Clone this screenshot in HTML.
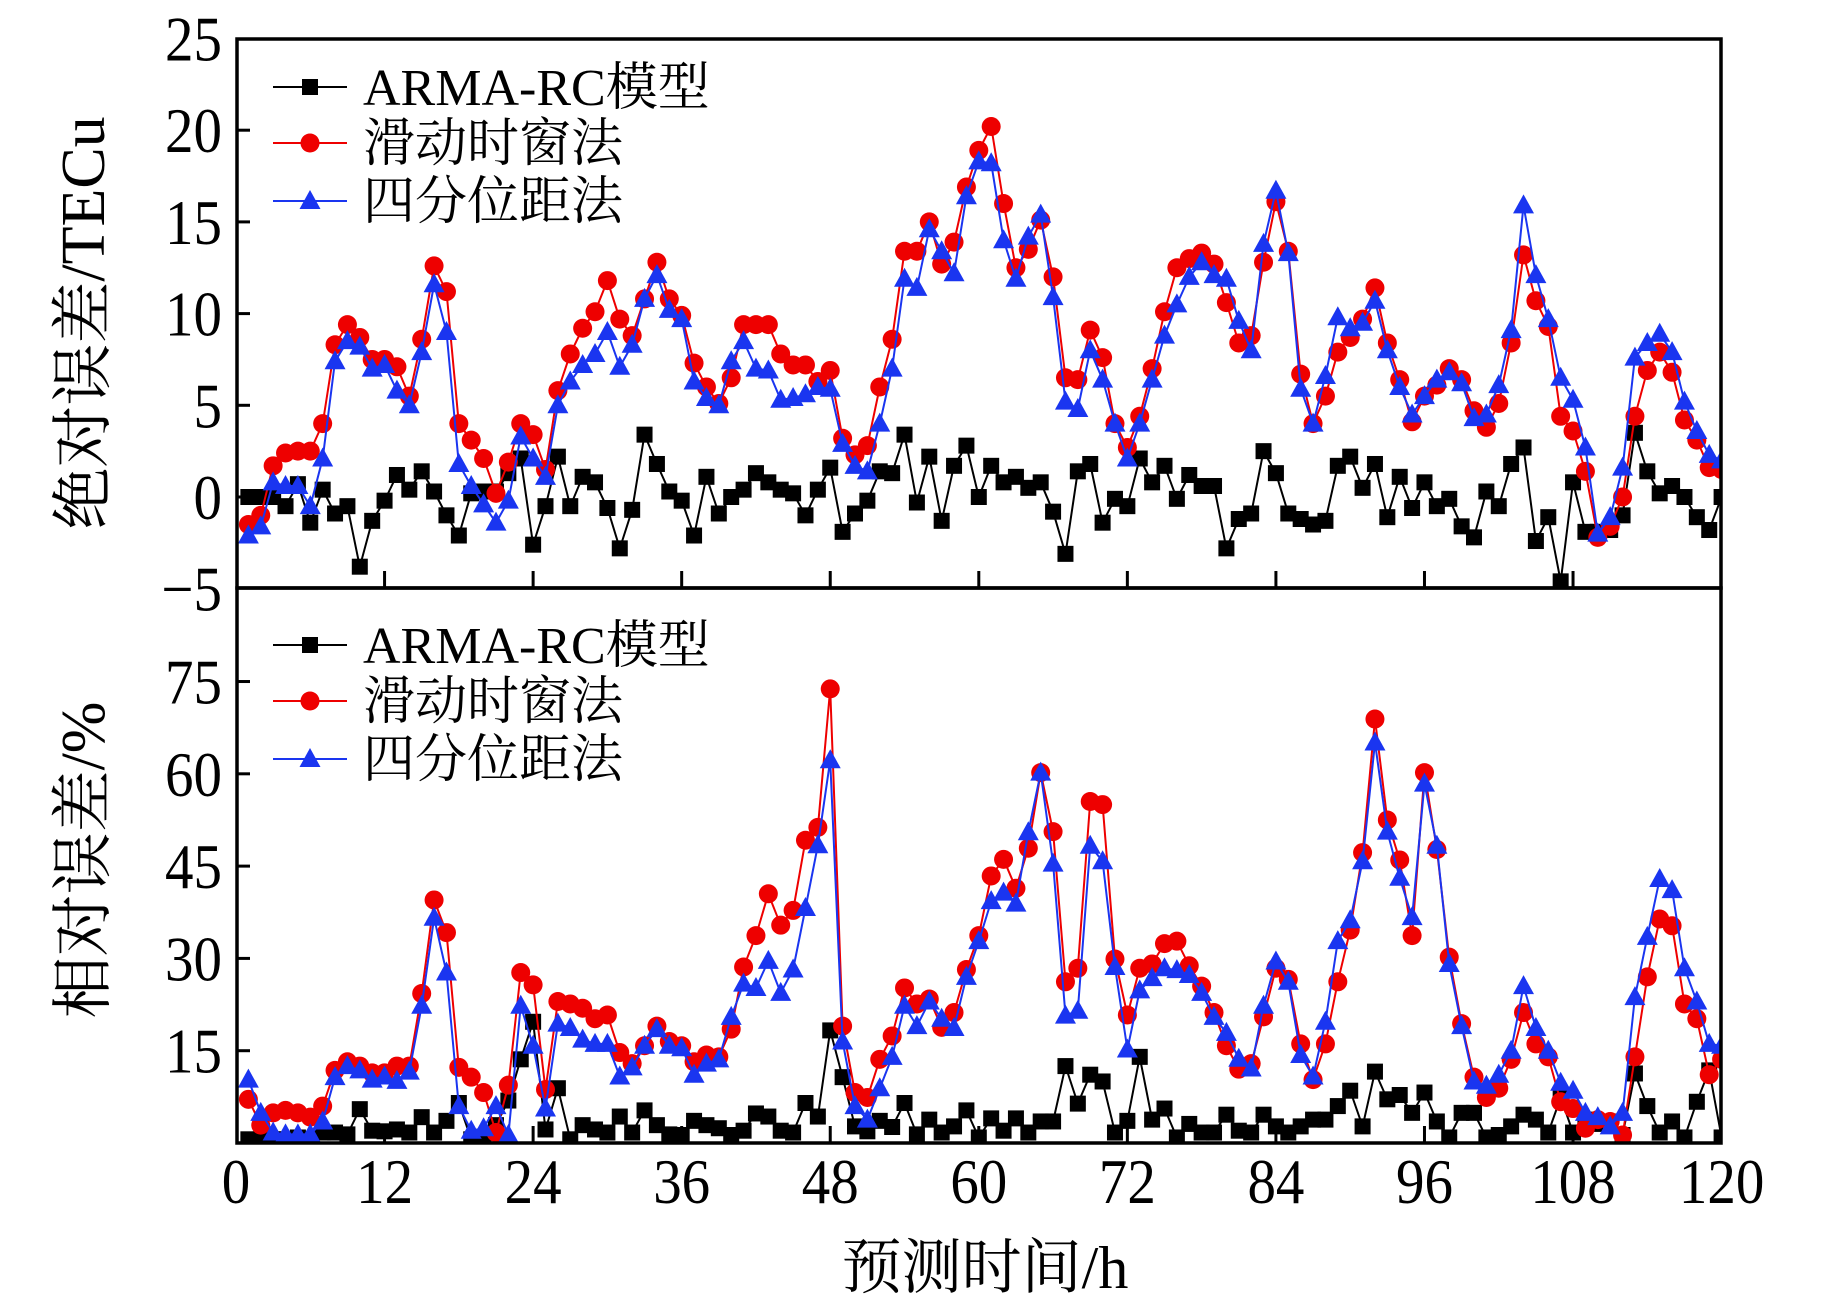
<!DOCTYPE html>
<html><head><meta charset="utf-8">
<style>
html,body{margin:0;padding:0;background:#fff;}
svg{display:block;}
text{font-family:"Liberation Serif","Noto Serif CJK SC",serif;fill:#000;}
</style></head>
<body>
<svg id="chart" xmlns="http://www.w3.org/2000/svg" width="1843" height="1299" viewBox="0 0 1843 1299">
  <g id="top-panel"></g>
  <g id="bottom-panel"></g>
  <text x="985" y="1288" font-size="60" text-anchor="middle">预测时间/h</text>
  <text transform="translate(104,323) rotate(-90)" font-size="62" text-anchor="middle">绝对误差/TECu</text>
  <text transform="translate(104,860) rotate(-90)" font-size="62" text-anchor="middle">相对误差/%</text>
</svg>
<script>
const hours = Array.from({length:120},(_,i)=>i+1);
const xTicks = [0,12,24,36,48,60,72,84,96,108,120];
const topYTicks = [-5,0,5,10,15,20,25];
const topYTickLabels = ["\u22125","0","5","10","15","20","25"];
const bottomYTicks = [15,30,45,60,75];
const seriesNames = ["ARMA-RC模型","滑动时窗法","四分位距法"];

const absArma = [0,0,0,-0.5,0.7,-1.4,0.4,-0.9,-0.5,-3.8,-1.3,-0.2,1.2,0.4,1.4,0.3,-1.0,-2.1,0.2,0.3,0.3,1.3,2.1,-2.6,-0.5,2.2,-0.5,1.1,0.8,-0.6,-2.8,-0.7,3.4,1.8,0.3,-0.2,-2.1,1.1,-0.9,0,0.4,1.3,0.8,0.4,0.2,-1.0,0.4,1.6,-1.9,-0.9,-0.2,1.4,1.3,3.4,-0.3,
2.2,-1.3,1.7,2.8,0.0,1.7,0.8,1.1,0.5,0.8,-0.8,-3.1,1.4,1.8,-1.4,-0.1,-0.5,2.1,0.8,1.7,-0.1,1.2,0.6,0.6,-2.8,-1.2,-0.9,2.5,1.3,-0.9,-1.2,-1.5,-1.3,1.7,2.2,0.5,1.8,-1.1,1.1,-0.6,0.8,-0.5,-0.1,-1.6,-2.2,0.3,-0.5,1.8,2.7,-2.4,-1.1,-4.6,0.8,-1.9,-1.9,-1.8,-1.0,3.5,1.4,0.2,0.6,0.0,-1.1,-1.8,0.0];
const absSliding = [-1.5,-1.0,1.7,2.4,2.5,2.5,4.0,8.3,9.4,8.7,7.5,7.5,7.1,5.5,8.6,12.6,11.2,4.0,3.1,2.1,0.2,1.9,4.0,3.4,1.5,5.8,7.8,9.2,10.1,11.8,9.7,8.8,10.8,12.8,10.8,9.9,7.3,6.0,5.1,6.5,9.4,9.4,9.4,7.8,7.2,7.2,6.3,6.9,3.2,2.3,2.8,6.0,8.6,13.4,13.4,
15.0,12.7,13.9,16.9,18.9,20.2,16.0,12.5,13.5,15.1,12.0,6.5,6.4,9.1,7.6,4.0,2.7,4.4,7.0,10.1,12.5,13.0,13.3,12.7,10.6,8.4,8.8,12.8,16.1,13.4,6.7,4.0,5.5,7.9,8.7,9.7,11.4,8.4,6.4,4.1,5.5,6.1,7.0,6.4,4.7,3.8,5.1,8.4,13.2,10.7,9.3,4.4,3.6,1.4,-2.2,-1.6,0.0,4.4,6.9,7.9,6.8,4.2,3.1,1.6,1.5];
const absIqr = [-2.1,-1.6,0.8,0.6,0.6,-0.5,2.1,7.4,8.5,8.2,7.0,7.2,5.8,5.0,7.9,11.6,9.0,1.8,0.6,-0.4,-1.4,-0.2,3.3,2.1,1.1,5.0,6.3,7.2,7.8,9.0,7.1,8.3,10.8,12.1,10.2,9.7,6.3,5.4,5.0,7.4,8.5,7.0,6.9,5.3,5.4,5.6,6.0,5.9,2.9,1.7,1.4,4.0,7.0,11.9,11.4,
14.6,13.4,12.2,16.4,18.3,18.2,14.0,11.9,14.2,15.4,10.9,5.2,4.8,8.0,6.4,4.0,2.1,4.0,6.4,8.8,10.5,12.0,12.8,12.1,11.9,9.6,8.0,13.8,16.7,13.3,5.9,4.0,6.6,9.8,9.2,9.5,10.7,8.0,6.0,4.5,5.5,6.4,6.8,6.2,4.3,4.5,6.1,9.1,15.9,12.1,9.7,6.5,5.3,2.7,-2.0,-1.1,1.6,7.6,8.4,8.9,7.9,5.2,3.6,2.3,2.0];

const relArma = [0.6,0.6,0.6,0.6,0.9,0.6,1.7,1.7,1.4,5.5,2.0,1.9,2.2,1.7,4.2,1.7,3.6,6.5,0.6,0.6,2.9,6.9,13.6,19.7,2.2,8.9,0.6,2.9,2.2,1.7,4.3,1.7,5.3,2.9,1.4,1.3,3.6,2.9,2.4,1.3,2.0,4.8,4.3,2.0,1.7,6.5,4.3,18.3,10.7,2.7,1.9,3.6,2.6,6.5,1.4,
3.8,1.7,2.7,5.3,0.9,4.0,2.0,4.0,1.7,3.5,3.5,12.5,6.4,11.1,10.0,1.7,3.6,14.0,3.8,5.6,0.9,3.1,1.7,1.7,4.6,2.0,1.7,4.6,2.7,1.7,2.7,3.8,3.8,6.0,8.5,2.7,11.6,7.1,7.8,4.9,8.2,3.5,0.9,4.9,4.9,0.9,1.3,2.7,4.6,3.8,1.7,7.4,1.7,3.8,3.1,3.5,1.3,11.3,6.0,1.7,3.5,0.9,6.7,11.8,0.9];
const relSliding = [7.1,2.9,4.9,5.3,4.9,4.2,6.0,11.8,13.2,12.5,11.4,11.4,12.5,12.5,24.3,39.5,34.2,12.3,10.7,8.2,1.7,9.4,27.7,25.7,8.7,23.0,22.6,21.9,20.2,20.8,14.7,12.9,15.8,19.0,16.5,15.8,13.2,14.3,14.0,18.5,28.6,33.7,40.5,35.4,37.8,49.2,51.3,73.8,19.0,8.2,7.4,13.6,17.4,25.2,22.6,
23.4,18.8,21.2,28.2,33.7,43.4,46.1,41.4,47.9,60.2,50.6,26.2,28.4,55.5,55.0,29.9,20.8,28.4,29.1,32.4,32.8,28.8,25.5,21.2,15.8,12.0,12.9,20.5,28.4,26.6,16.1,10.3,16.1,26.2,34.6,47.2,68.9,52.5,46.0,33.7,60.2,47.7,30.2,19.4,10.7,7.4,8.9,13.6,21.2,16.1,14.0,6.7,5.6,2.4,3.8,3.5,1.3,14.0,27.0,36.4,35.3,22.6,20.2,11.1,13.6];
const relIqr = [10.3,4.9,1.7,1.4,1.4,1.4,3.5,10.7,12.5,11.8,10.3,10.8,10.1,11.6,22.3,36.6,27.7,6.0,2.0,2.4,6.0,1.3,22.3,15.8,5.6,19.4,18.7,16.8,16.1,16.1,10.8,12.3,15.8,18.5,15.8,15.4,11.1,12.9,13.6,20.5,25.9,25.2,29.6,24.4,28.2,38.2,48.4,62.2,16.5,6.0,3.8,8.9,14.0,22.3,19.0,
23.0,20.2,18.7,27.0,32.8,39.3,40.7,38.9,50.5,60.2,45.4,20.7,21.5,48.3,45.8,28.6,15.2,24.8,26.8,28.4,28.1,27.3,24.4,20.5,17.9,13.7,12.1,22.3,29.5,26.2,14.3,10.8,19.7,32.8,36.2,45.8,65.1,50.6,43.1,36.7,58.4,48.3,29.1,19.0,10.0,9.3,11.1,15.0,25.5,18.7,15.0,9.8,8.5,4.9,4.2,2.7,4.9,23.7,33.5,42.9,41.1,28.4,23.0,16.1,15.8];

const NS = "http://www.w3.org/2000/svg";
const PL = 237, PR = 1721;
function xs(h){ return 236 + 12.38*h; }
function ysTop(v){ return 497 - 18.34*v; }
function ysBot(v){ return 1143 - 6.153*v; }

function mk(tag, attrs, parent){
  const e = document.createElementNS(NS, tag);
  for (const k in attrs) e.setAttribute(k, attrs[k]);
  parent.appendChild(e);
  return e;
}

function marker(g, type, cx, cy, color){
  let e;
  if (type === 'square') {
    e = mk('rect', {x:cx-8, y:cy-8, width:16, height:16, fill:color}, g);
  } else if (type === 'circle') {
    e = mk('circle', {cx:cx, cy:cy, r:9.5, fill:color}, g);
  } else {
    e = mk('polygon', {points:`${cx},${cy-11} ${cx-10.5},${cy+8} ${cx+10.5},${cy+8}`, fill:color}, g);
  }
  return e;
}

function tickText(g, x, y, anchor, str){
  const t = mk('text', {transform:`translate(${x},${y}) scale(0.89,1)`, x:0, y:0, 'font-size':64, 'text-anchor':anchor}, g);
  t.textContent = str;
  return t;
}

function drawSeries(g, vals, ys, color, type, name){
  const sg = mk('g', {}, g);
  
  
  const pts = vals.map((v,i)=>`${xs(hours[i]).toFixed(1)},${ys(v).toFixed(1)}`).join(' ');
  const ln = mk('polyline', {points:pts, fill:'none', stroke:color, 'stroke-width':2}, sg);
  
  
  vals.forEach((v,i)=>{
    const m = marker(sg, type, xs(hours[i]), ys(v), color);
    
    
  });
}

function drawLegend(g, y0){
  const types = ['square','circle','triangle'];
  const colors = ['#000','#ee0000','#1a35f0'];
  const ys = [y0, y0+56, y0+114];
  for (let i=0;i<3;i++){
    const lg = mk('g', {}, g);
    
    
    mk('line', {x1:273, x2:347, y1:ys[i], y2:ys[i], stroke:colors[i], 'stroke-width':2}, lg);
    marker(lg, types[i], 310, ys[i], colors[i]);
    const t = mk('text', {x:363, y:ys[i]+18, 'font-size':52}, lg);
    t.textContent = seriesNames[i];
  }
}

// Top panel
const tg = document.getElementById('top-panel');
const cpT = mk('clipPath', {id:'clipT'}, tg);
mk('rect', {x:PL, y:39, width:PR-PL, height:549}, cpT);
const tdata = mk('g', {'clip-path':'url(#clipT)'}, tg);
drawSeries(tdata, absArma, ysTop, '#000', 'square', 'top-arma');
drawSeries(tdata, absSliding, ysTop, '#ee0000', 'circle', 'top-sliding-window');
drawSeries(tdata, absIqr, ysTop, '#1a35f0', 'triangle', 'top-iqr');
topYTicks.forEach((v,i)=>{
  const y = ysTop(v);
  if (v>-5 && v<25) mk('line', {x1:PL, x2:PL+13, y1:y, y2:y, stroke:'#000','stroke-width':3}, tg);
  const t = tickText(tg, 222, y+22, 'end', topYTickLabels[i]);
  
  
});
xTicks.forEach(h=>{
  if (h>0 && h<120) mk('line', {x1:xs(h), x2:xs(h), y1:588, y2:571, stroke:'#000','stroke-width':3}, tg);
});
mk('rect', {x:PL, y:39, width:PR-PL, height:549, fill:'none', stroke:'#000','stroke-width':3.5}, tg);
drawLegend(tg, 87);

// Bottom panel
const bg = document.getElementById('bottom-panel');
const cpB = mk('clipPath', {id:'clipB'}, bg);
mk('rect', {x:PL, y:588, width:PR-PL, height:555}, cpB);
const bdata = mk('g', {'clip-path':'url(#clipB)'}, bg);
drawSeries(bdata, relArma, ysBot, '#000', 'square', 'bottom-arma');
drawSeries(bdata, relSliding, ysBot, '#ee0000', 'circle', 'bottom-sliding-window');
drawSeries(bdata, relIqr, ysBot, '#1a35f0', 'triangle', 'bottom-iqr');
bottomYTicks.forEach(v=>{
  const y = ysBot(v);
  mk('line', {x1:PL, x2:PL+13, y1:y, y2:y, stroke:'#000','stroke-width':3}, bg);
  const t = tickText(bg, 222, y+22, 'end', String(v));
  
  
});
xTicks.forEach(h=>{
  if (h>0 && h<120) mk('line', {x1:xs(h), x2:xs(h), y1:1143, y2:1126, stroke:'#000','stroke-width':3}, bg);
  const t = tickText(bg, xs(h), 1203, 'middle', String(h));
  
  
});
mk('rect', {x:PL, y:588, width:PR-PL, height:555, fill:'none', stroke:'#000','stroke-width':3.5}, bg);
drawLegend(bg, 645);
</script>
</body></html>
